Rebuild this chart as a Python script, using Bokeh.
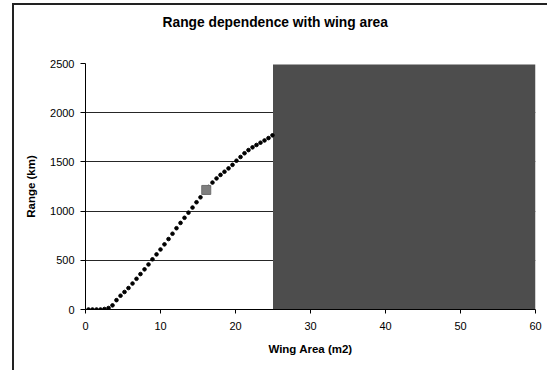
from bokeh.plotting import figure
from bokeh.models import Range1d, SingleIntervalTicker, FixedTicker, LinearAxis
from bokeh.embed import file_html
from bokeh.resources import INLINE

# Data
wing_area = [0.4, 0.93, 1.47, 2.0, 2.53, 3.07, 3.6, 4.13, 4.67, 5.2, 5.73, 6.27,
             6.8, 7.33, 7.87, 8.4, 8.93, 9.47, 10.0, 10.53, 11.07, 11.6, 12.13,
             12.67, 13.2, 13.73, 14.27, 14.8, 15.33, 15.87, 16.4, 16.93, 17.47,
             18.0, 18.53, 19.07, 19.6, 20.13, 20.67, 21.2, 21.73, 22.27, 22.8,
             23.33, 23.87, 24.4, 24.93]
range_km = [0, 0, 0, 0, 5, 15, 42, 95, 140, 178, 218, 264, 312, 360, 408, 458,
            510, 560, 610, 662, 716, 770, 826, 880, 932, 984, 1036, 1090, 1140,
            1190, 1245, 1290, 1332, 1368, 1400, 1434, 1470, 1512, 1550, 1588,
            1620, 1648, 1672, 1695, 1718, 1742, 1770]
design_area = [16.1]
design_range = [1215]
shade_left = [25]
shade_right = [60]
shade_bottom = [0]
shade_top = [2490]
title_text = "Range dependence with wing area"

FONT = "Liberation Sans"

p = figure(width=535, height=367, output_backend="svg", toolbar_location=None,
           x_range=Range1d(0, 60), y_range=Range1d(0, 2500),
           min_border_left=73, min_border_right=12, min_border_top=60,
           min_border_bottom=61, margin=(3, 0, 0, 12),
           styles={"box-shadow": "inset 2px 2px 0 0 #222222"})

p.outline_line_color = None
p.background_fill_color = "white"
p.border_fill_color = None

xa = p.below[0]
ya = p.left[0]

# invisible spacer between the title and the plot area
spacer = LinearAxis(ticker=FixedTicker(ticks=[30]), major_tick_out=29,
                    major_tick_in=0, minor_tick_out=0, minor_tick_in=0,
                    axis_line_color=None, major_tick_line_color=None,
                    minor_tick_line_color=None, major_label_standoff=0,
                    major_label_overrides={30: ""},
                    major_label_text_font_size="0px",
                    major_label_text_alpha=0)
p.add_layout(spacer, "above")

p.title.text = title_text
p.title.text_font = FONT
p.title.text_font_size = "13.8px"
p.title.text_font_style = "bold"
p.title.text_color = "black"
p.title.align = "left"
p.title.offset = 77
p.title.standoff = 10

p.quad(left=shade_left, right=shade_right, bottom=shade_bottom, top=shade_top,
       fill_color="#4d4d4d", line_color=None)

p.scatter(wing_area, range_km, marker="circle", size=3.6, color="black")
p.scatter(design_area, design_range, marker="square", size=9,
          fill_color="#7f7f7f", line_color="#6f6f6f")

xa.ticker = SingleIntervalTicker(interval=10)
ya.ticker = SingleIntervalTicker(interval=500)
for ax in (xa, ya):
    ax.minor_tick_line_color = None
    ax.major_tick_in = 0
    ax.axis_line_color = "black"
    ax.major_tick_line_color = "black"
    ax.major_label_text_font = FONT
    ax.major_label_text_font_size = "11px"
    ax.major_label_text_color = "black"
    ax.axis_label_text_font = FONT
    ax.axis_label_text_font_size = "11.5px"
    ax.axis_label_text_font_style = "bold"
    ax.axis_label_text_color = "black"
xa.major_tick_out = 4
ya.major_tick_out = 5
xa.axis_label = "Wing Area (m2)"
ya.axis_label = "Range (km)"
xa.major_label_standoff = 8
ya.major_label_standoff = 6
xa.axis_label_standoff = 10
ya.axis_label_standoff = 10

p.xgrid.grid_line_color = None
p.ygrid.grid_line_color = "black"
p.ygrid.grid_line_alpha = 0.85

open("out.html", "w").write(file_html(p, INLINE))
